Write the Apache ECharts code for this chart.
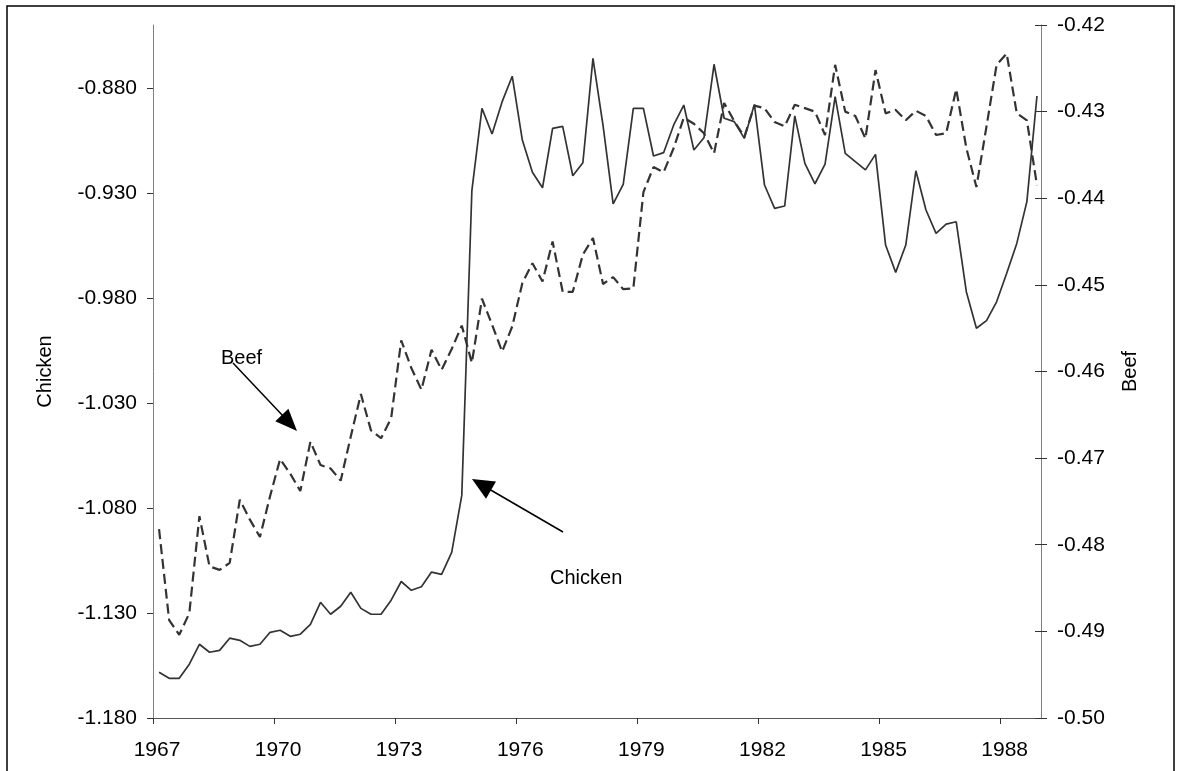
<!DOCTYPE html>
<html>
<head>
<meta charset="utf-8">
<script src="https://cdn.jsdelivr.net/npm/echarts@6/dist/echarts.min.js"></script>
<style>
html,body{margin:0;padding:0;background:#fff;}
#chart{width:1181px;height:771px;}
</style>
</head>
<body>
<div id="chart"></div>
<script>
// ---- data (quarterly, 1967Q1 .. 1988Q4) ----
const startYear = 1967;
const chicken = [
  -1.1582, -1.1611, -1.1611, -1.1544, -1.1449, -1.1487, -1.1478, -1.1420,
  -1.1430, -1.1459, -1.1449, -1.1392, -1.1382, -1.1411, -1.1401, -1.1354,
  -1.1249, -1.1306, -1.1268, -1.1201, -1.1278, -1.1306, -1.1306, -1.1239,
  -1.1150, -1.1192, -1.1175, -1.1105, -1.1116, -1.1011, -1.0740, -0.9289,
  -0.8897, -0.9019, -0.8865, -0.8744, -0.9048, -0.9201, -0.9275, -0.8992,
  -0.8983, -0.9218, -0.9156, -0.8659, -0.8979, -0.9352, -0.9259, -0.8897,
  -0.8897, -0.9124, -0.9108, -0.8976, -0.8881, -0.9095, -0.9037, -0.8687,
  -0.8944, -0.8960, -0.9040, -0.8878, -0.9262, -0.9373, -0.9362, -0.8933,
  -0.9159, -0.9256, -0.9162, -0.8841, -0.9111, -0.9151, -0.9190, -0.9116,
  -0.9548, -0.9678, -0.9548, -0.9194, -0.9381, -0.9492, -0.9448, -0.9437,
  -0.9770, -0.9944, -0.9908, -0.9818, -0.9682, -0.9540, -0.9341, -0.8838
];
const beef = [
  -0.4782, -0.4887, -0.4904, -0.4879, -0.4767, -0.4825, -0.4829, -0.4821,
  -0.4748, -0.4771, -0.4791, -0.4744, -0.4701, -0.4718, -0.4738, -0.4681,
  -0.4708, -0.4712, -0.4726, -0.4675, -0.4626, -0.4668, -0.4677, -0.4654,
  -0.4564, -0.4596, -0.4621, -0.4575, -0.4598, -0.4574, -0.4547, -0.4590,
  -0.4516, -0.4546, -0.4577, -0.4548, -0.4498, -0.4475, -0.4496, -0.4450,
  -0.4508, -0.4508, -0.4465, -0.4446, -0.4499, -0.4491, -0.4505, -0.4504,
  -0.4393, -0.4364, -0.4370, -0.4342, -0.4307, -0.4314, -0.4325, -0.4348,
  -0.4290, -0.4311, -0.4329, -0.4293, -0.4296, -0.4312, -0.4317, -0.4292,
  -0.4296, -0.4300, -0.4327, -0.4246, -0.4300, -0.4305, -0.4331, -0.4252,
  -0.4302, -0.4298, -0.4310, -0.4299, -0.4305, -0.4327, -0.4325, -0.4274,
  -0.4342, -0.4387, -0.4317, -0.4246, -0.4233, -0.4302, -0.4310, -0.4385
];
const yearTicks = [1967, 1970, 1973, 1976, 1979, 1982, 1985, 1988];
const chickenTicks = [-1.180, -1.130, -1.080, -1.030, -0.980, -0.930, -0.880];
const beefTicks = [-0.50, -0.49, -0.48, -0.47, -0.46, -0.45, -0.44, -0.43, -0.42];

// quarter -> position on the year axis
const periods = chicken.map((_, k) => ({ year: startYear + Math.floor(k / 4), q: (k % 4) + 1 }));
const tpos = periods.map(p => p.year + (p.q - 1) / 4 + 0.15);

const FONT = "'Liberation Sans', Arial, sans-serif";
const axisGray = '#808080';

const chart = echarts.init(document.getElementById('chart'), null, { renderer: 'canvas' });

const yCommonLabel = { color: '#000', fontSize: 21, fontFamily: FONT, margin: 16 };

chart.setOption({
  animation: false,
  backgroundColor: '#fff',
  grid: { left: 153, right: 140, top: 25, bottom: 53, containLabel: false },
  xAxis: {
    type: 'value', min: 1967, max: 1989, interval: 3,
    axisLine: { show: true, lineStyle: { color: '#555', width: 1 } },
    axisTick: { show: true, inside: false, length: 6, lineStyle: { color: '#333' }, customValues: yearTicks },
    axisLabel: { color: '#000', fontSize: 21, fontFamily: FONT, margin: 22, customValues: yearTicks,
                 padding: [0, 0, 0, 8], formatter: v => String(Math.round(v)) },
    splitLine: { show: false }
  },
  yAxis: [
    {
      type: 'value', position: 'left', min: -1.18, max: -0.85, interval: 0.05,
      name: 'Chicken', nameLocation: 'middle', nameGap: 98, nameRotate: 90,
      nameTextStyle: { color: '#000', fontSize: 20, fontFamily: FONT },
      axisLine: { show: true, lineStyle: { color: axisGray, width: 1 } },
      axisTick: { show: true, length: 6, lineStyle: { color: '#333' }, customValues: chickenTicks },
      axisLabel: Object.assign({}, yCommonLabel, { customValues: chickenTicks, formatter: v => v.toFixed(3) }),
      splitLine: { show: false }
    },
    {
      type: 'value', position: 'right', min: -0.50, max: -0.42, interval: 0.01,
      name: 'Beef', nameLocation: 'middle', nameGap: 79, nameRotate: 90,
      nameTextStyle: { color: '#000', fontSize: 20, fontFamily: FONT },
      axisLine: { show: true, onZero: false, lineStyle: { color: axisGray, width: 1 } },
      axisTick: { show: true, length: 6, lineStyle: { color: '#333' }, customValues: beefTicks },
      axisLabel: Object.assign({}, yCommonLabel, { customValues: beefTicks, formatter: v => v.toFixed(2) }),
      splitLine: { show: false }
    },
    {
      type: 'value', position: 'right', min: -0.50, max: -0.42, interval: 0.01,
      axisLine: { show: false },
      axisTick: { show: true, inside: true, length: 6, lineStyle: { color: '#333' }, customValues: beefTicks },
      axisLabel: { show: false },
      splitLine: { show: false }
    }
  ],
  series: [
    {
      name: 'Chicken', type: 'line', yAxisIndex: 0, symbol: 'none',
      data: chicken.map((v, i) => [tpos[i], v]),
      lineStyle: { color: '#333', width: 1.7, type: 'solid' }
    },
    {
      name: 'Beef', type: 'line', yAxisIndex: 1, symbol: 'none',
      data: beef.map((v, i) => [tpos[i], v]),
      lineStyle: { color: '#333', width: 2.2, type: [10, 5] }
    }
  ],
  graphic: [
    { type: 'rect', shape: { x: 7, y: 6, width: 1167, height: 800 }, style: { fill: 'none', stroke: '#000', lineWidth: 1.5 }, silent: true },
    // Beef annotation
    { type: 'text', left: 221, top: 348, style: { text: 'Beef', fill: '#000', font: '20px ' + FONT } },
    { type: 'line', shape: { x1: 233, y1: 363, x2: 284, y2: 417 }, style: { stroke: '#000', lineWidth: 1.5 } },
    { type: 'polygon', shape: { points: [[297, 431], [275.3, 421.2], [288.4, 408.8]] }, style: { fill: '#000' } },
    // Chicken annotation
    { type: 'text', left: 550, top: 568, style: { text: 'Chicken', fill: '#000', font: '20px ' + FONT } },
    { type: 'line', shape: { x1: 563, y1: 532, x2: 489, y2: 489 }, style: { stroke: '#000', lineWidth: 1.5 } },
    { type: 'polygon', shape: { points: [[472, 479], [496, 481.5], [486, 498.7]] }, style: { fill: '#000' } }
  ]
});
</script>
</body>
</html>
